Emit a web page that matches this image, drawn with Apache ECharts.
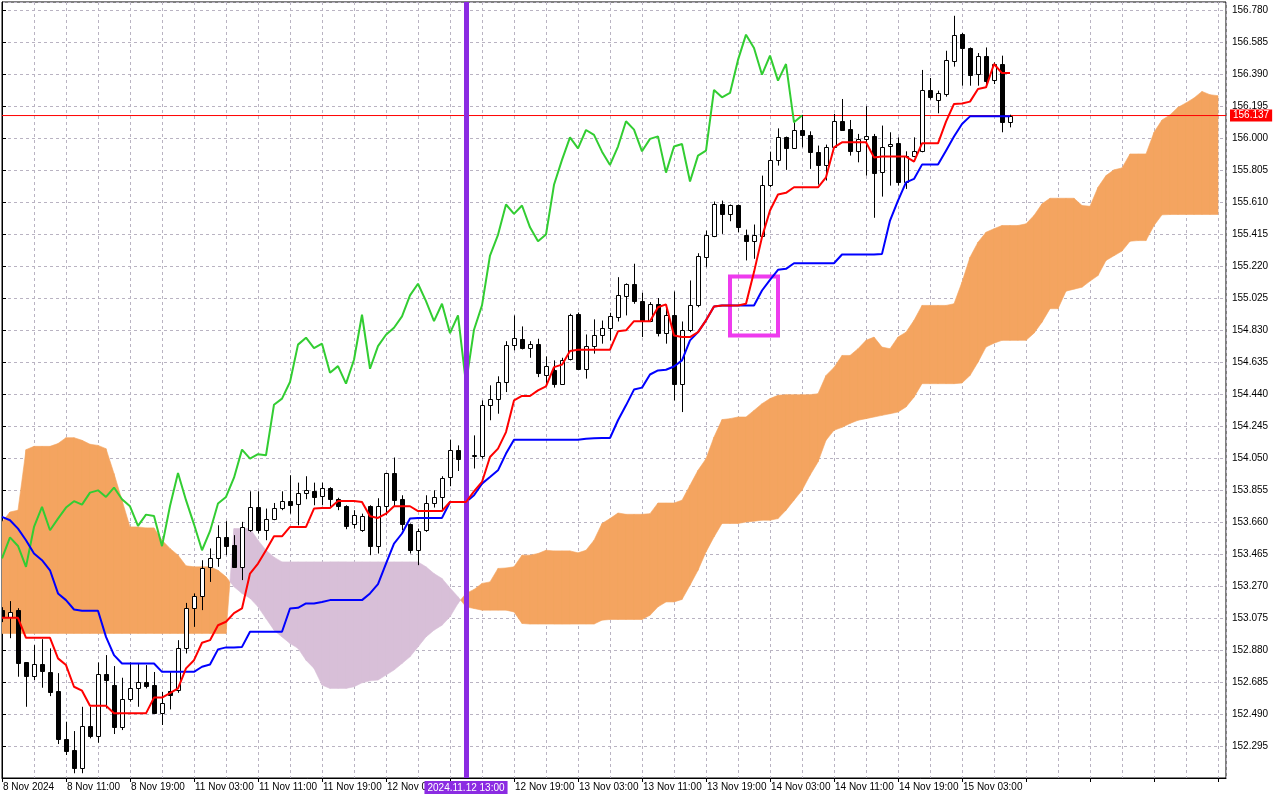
<!DOCTYPE html>
<html>
<head>
<meta charset="utf-8">
<script src="https://cdn.jsdelivr.net/npm/echarts@6/dist/echarts.min.js"></script>
<style>
html,body{margin:0;padding:0;background:#ffffff;}
#chart{width:1280px;height:800px;}
</style>
</head>
<body>
<div id="chart"></div>
<script>
// ---- data (hourly bars, index 0 = 8 Nov 2024 03:00) ----
const tickLabels = ['8 Nov 2024','8 Nov 11:00','8 Nov 19:00','11 Nov 03:00','11 Nov 11:00','11 Nov 19:00','12 Nov 03:00','',
  '12 Nov 19:00','13 Nov 03:00','13 Nov 11:00','13 Nov 19:00','14 Nov 03:00','14 Nov 11:00','14 Nov 19:00','15 Nov 03:00'];

const opens = [
153.123,153.082,153.123,152.804,152.723,152.794,152.745,152.630,152.336,152.271,
152.163,152.417,152.358,152.731,152.666,152.409,152.581,152.646,152.683,152.666,
152.498,152.632,152.636,152.893,153.133,153.210,153.383,153.438,153.566,153.519,
153.387,153.610,153.752,153.614,153.681,153.748,153.787,153.768,153.839,153.852,
153.817,153.870,153.799,153.756,153.645,153.614,153.756,153.513,153.756,153.959,
153.799,153.645,153.492,153.610,153.776,153.813,153.934,154.101,154.048,154.060,
154.062,154.375,154.412,154.513,154.741,154.777,154.720,154.747,154.558,154.584,
154.503,154.655,154.929,154.594,154.732,154.801,154.844,154.909,155.036,155.112,
155.004,154.884,154.990,154.811,154.919,154.503,154.832,154.980,155.274,155.406,
155.595,155.538,155.589,155.412,155.371,155.406,155.715,155.867,156.004,155.940,
156.049,156.021,155.917,155.836,155.943,156.102,156.056,155.919,155.995,156.015,
155.795,155.950,155.970,155.735,155.889,155.919,156.293,156.234,156.269,156.467,
156.634,156.549,156.390,156.502,156.354,156.451,156.100];

const closes = [
153.080,153.112,152.802,152.723,152.792,152.753,152.625,152.336,152.266,152.163,
152.417,152.358,152.731,152.697,152.412,152.581,152.646,152.683,152.662,152.498,
152.558,152.604,152.893,153.133,153.210,153.377,153.438,153.566,153.514,153.387,
153.630,153.752,153.610,153.681,153.748,153.787,153.766,153.839,153.853,153.813,
153.870,153.799,153.756,153.636,153.705,153.697,153.513,153.758,153.959,153.793,
153.646,153.488,153.604,153.773,153.813,153.930,154.101,154.046,154.073,154.067,
154.375,154.412,154.513,154.741,154.783,154.720,154.747,154.570,154.610,154.503,
154.649,154.923,154.594,154.732,154.801,154.844,154.913,155.041,155.112,155.006,
154.884,154.990,154.811,154.919,154.503,154.832,154.980,155.284,155.410,155.595,
155.538,155.589,155.456,155.371,155.412,155.715,155.867,156.004,155.937,156.049,
156.019,155.917,155.836,155.948,156.102,156.051,155.919,155.995,156.010,155.789,
155.948,155.964,155.735,155.893,155.923,156.293,156.248,156.275,156.476,156.630,
156.549,156.386,156.502,156.350,156.451,156.096,156.137];

const lows = [
153.050,152.952,152.717,152.534,152.697,152.650,152.599,152.307,152.240,152.129,
152.129,152.342,152.315,152.524,152.368,152.392,152.565,152.534,152.646,152.490,
152.423,152.518,152.619,152.859,153.021,153.123,153.295,153.387,153.458,153.385,
153.306,153.600,153.590,153.549,153.671,153.732,153.711,153.640,153.799,153.762,
153.762,153.752,153.732,153.616,153.620,153.600,153.458,153.468,153.701,153.752,
153.610,153.468,153.397,153.600,153.748,153.732,153.878,153.971,154.000,153.986,
154.046,154.280,154.320,154.452,154.706,154.712,154.661,154.543,154.503,154.479,
154.497,154.645,154.590,154.534,154.686,154.747,154.767,154.882,154.919,154.990,
154.787,154.878,154.791,154.747,154.401,154.330,154.817,154.969,155.213,155.396,
155.416,155.493,155.426,155.254,155.264,155.396,155.700,155.832,155.806,155.934,
155.943,155.812,155.716,155.741,155.940,156.045,155.893,155.852,155.771,155.514,
155.643,155.710,155.710,155.690,155.883,155.913,156.234,156.151,156.252,156.435,
156.319,156.319,156.319,156.309,156.329,156.035,156.065];

const highs = [
153.141,153.178,153.135,152.806,152.910,152.946,152.890,152.739,152.443,152.386,
152.534,152.534,152.804,152.849,152.782,152.711,152.804,152.798,152.788,152.746,
152.625,152.746,152.940,153.167,153.225,153.427,153.499,153.640,153.665,153.580,
153.661,153.847,153.847,153.742,153.776,153.847,153.945,153.900,153.939,153.900,
153.900,153.872,153.808,153.762,153.732,153.711,153.762,153.805,153.960,154.053,
153.823,153.651,153.620,153.823,153.853,153.939,154.162,154.127,154.158,154.188,
154.401,154.493,154.548,154.762,154.919,154.852,154.762,154.777,154.669,154.645,
154.661,154.929,154.937,154.803,154.895,154.888,154.935,155.152,155.114,155.234,
155.057,155.000,155.025,154.969,155.065,154.882,155.132,155.298,155.436,155.613,
155.619,155.595,155.595,155.442,155.473,155.771,155.917,156.059,156.009,156.110,
156.141,156.041,155.954,155.960,156.147,156.238,156.110,156.025,156.194,156.025,
156.076,156.035,156.004,155.919,156.004,156.415,156.366,156.289,156.532,156.745,
156.640,156.552,156.518,156.552,156.461,156.502,156.142];

const tenkan = [
153.076,153.076,153.076,152.954,152.954,152.954,152.954,152.829,152.788,152.656,
152.632,152.540,152.540,152.540,152.494,152.494,152.494,152.494,152.494,152.590,
152.590,152.617,152.646,152.768,152.818,152.924,152.940,153.031,153.052,153.105,
153.133,153.346,153.407,153.488,153.573,153.573,153.630,153.630,153.630,153.742,
153.746,153.746,153.788,153.788,153.788,153.782,153.695,153.685,153.711,153.756,
153.756,153.756,153.727,153.727,153.727,153.727,153.782,153.782,153.782,153.847,
153.904,154.056,154.107,154.208,154.401,154.428,154.428,154.462,154.487,154.604,
154.619,154.702,154.710,154.710,154.710,154.710,154.710,154.822,154.828,154.884,
154.884,154.884,154.969,154.986,154.797,154.787,154.787,154.817,154.889,154.974,
154.980,154.980,154.980,154.990,155.183,155.396,155.558,155.656,155.666,155.700,
155.700,155.700,155.700,155.761,155.943,155.974,155.974,155.974,155.974,155.882,
155.887,155.887,155.887,155.887,155.856,155.968,155.968,155.968,156.100,156.208,
156.211,156.222,156.299,156.309,156.451,156.396,156.396];

const kijun = [
153.691,153.671,153.620,153.549,153.468,153.427,153.366,153.225,153.184,153.127,
153.119,153.119,153.119,152.960,152.849,152.798,152.798,152.798,152.798,152.798,
152.747,152.747,152.747,152.747,152.747,152.778,152.792,152.884,152.896,152.896,
152.899,152.991,152.991,152.991,152.991,152.991,153.133,153.137,153.164,153.164,
153.173,153.184,153.184,153.184,153.184,153.184,153.225,153.281,153.407,153.529,
153.590,153.681,153.685,153.685,153.685,153.685,153.782,153.782,153.782,153.823,
153.894,153.934,153.975,154.077,154.162,154.162,154.162,154.162,154.162,154.162,
154.162,154.162,154.162,154.167,154.170,154.172,154.172,154.280,154.371,154.467,
154.479,154.559,154.584,154.588,154.608,154.645,154.767,154.817,154.889,154.974,
154.980,154.980,154.980,154.980,154.980,155.071,155.136,155.197,155.203,155.237,
155.237,155.237,155.237,155.237,155.237,155.290,155.290,155.290,155.290,155.290,
155.294,155.497,155.619,155.730,155.751,155.838,155.838,155.838,155.923,156.009,
156.086,156.132,156.132,156.132,156.132,156.132,156.132];

// Senkou spans, already shifted 26 bars forward (index 0..152)
const spanA = [
153.660,153.721,153.732,154.101,154.121,154.121,154.121,154.138,154.174,154.174,
154.158,154.134,154.127,154.107,153.955,153.793,153.630,153.630,153.624,153.624,
153.549,153.499,153.458,153.393,153.387,153.387,153.387,153.366,153.326,153.265,
153.225,153.196,153.143,153.072,153.001,152.960,152.920,152.890,152.818,152.768,
152.666,152.646,152.646,152.646,152.656,152.680,152.692,152.697,152.727,152.758,
152.798,152.839,152.899,152.960,153.001,153.031,153.082,153.164,153.225,153.249,
153.286,153.295,153.377,153.380,153.387,153.458,153.458,153.468,153.488,153.484,
153.484,153.484,153.472,153.488,153.549,153.651,153.681,153.715,153.707,153.707,
153.707,153.711,153.776,153.776,153.776,153.793,153.884,153.975,154.046,154.178,
154.284,154.290,154.300,154.300,154.340,154.381,154.412,154.432,154.436,154.436,
154.436,154.436,154.442,154.553,154.602,154.675,154.675,154.716,154.767,154.787,
154.726,154.716,154.787,154.817,154.889,154.980,154.980,154.980,154.980,154.990,
155.122,155.274,155.365,155.426,155.447,155.467,155.467,155.467,155.477,155.528,
155.599,155.633,155.633,155.633,155.633,155.589,155.584,155.700,155.771,155.806,
155.818,155.903,155.903,155.903,156.035,156.110,156.141,156.187,156.214,156.244,
156.284,156.264,156.258];

const spanB = [
152.981,152.981,152.981,152.981,152.981,152.981,152.981,152.981,152.981,152.981,
152.981,152.981,152.981,152.981,152.981,152.981,152.981,152.981,152.981,152.981,
152.981,152.981,152.981,152.981,152.981,152.981,152.981,152.981,152.981,153.620,
153.620,153.620,153.549,153.488,153.446,153.417,153.417,153.417,153.417,153.417,
153.417,153.417,153.417,153.417,153.417,153.417,153.417,153.417,153.417,153.417,
153.417,153.417,153.417,153.387,153.346,153.316,153.258,153.204,153.143,153.133,
153.123,153.123,153.123,153.123,153.112,153.042,153.038,153.038,153.038,153.038,
153.038,153.038,153.038,153.038,153.038,153.062,153.066,153.066,153.066,153.066,
153.066,153.092,153.143,153.173,153.173,153.188,153.275,153.366,153.478,153.569,
153.651,153.651,153.651,153.660,153.665,153.671,153.671,153.681,153.732,153.793,
153.853,153.945,154.026,154.158,154.219,154.237,154.261,154.280,154.290,154.300,
154.310,154.320,154.330,154.361,154.421,154.503,154.503,154.503,154.503,154.503,
154.507,154.553,154.634,154.726,154.750,154.767,154.767,154.767,154.767,154.811,
154.878,154.960,154.960,155.067,155.079,155.091,155.128,155.162,155.254,155.283,
155.311,155.371,155.375,155.375,155.467,155.532,155.534,155.534,155.534,155.534,
155.534,155.534,155.534];

const chikouShift = 26;
const lastPrice = 156.137;
const markerBar = 58;
const markerText = '2024.11.12 13:00';
const boxCorners = [[91, 155.156], [97, 154.797]];

// ---- build series data ----
const candleData = opens.map((o, i) => [i, o, closes[i], lows[i], highs[i]]);
const tenkanData = tenkan.map((v, i) => [i, v]);
const kijunData = kijun.map((v, i) => [i, v]);
const chikouData = closes.slice(chikouShift).map((v, i) => [i, v]);
const cloudData = [];
for (let i = 0; i < spanA.length - 1; i++) {
  cloudData.push([i, spanA[i], spanB[i], spanA[i + 1], spanB[i + 1]]);
}
const xMax = 153;
const priceLineData = [[0, lastPrice], [xMax, lastPrice]];

const FONT = 'Liberation Sans';
const ORANGE = '#F4A460';
const THISTLE = '#D8BFD8';
const GRID_COLOR = '#B9B3C2';

function renderCloud(params, api) {
  const k = api.value(0);
  const a1 = api.value(1), b1 = api.value(2), a2 = api.value(3), b2 = api.value(4);
  const d1 = a1 - b1, d2 = a2 - b2;
  const P = (x, y) => api.coord([x, y]);
  const polys = [];
  if (d1 * d2 >= 0) {
    const col = (d1 + d2) >= 0 ? ORANGE : THISTLE;
    polys.push({ pts: [P(k, a1), P(k + 1, a2), P(k + 1, b2), P(k, b1)], col: col });
  } else {
    const t = d1 / (d1 - d2);
    const xm = k + t, ym = a1 + t * (a2 - a1);
    polys.push({ pts: [P(k, a1), P(xm, ym), P(k, b1)], col: d1 > 0 ? ORANGE : THISTLE });
    polys.push({ pts: [P(xm, ym), P(k + 1, a2), P(k + 1, b2)], col: d2 > 0 ? ORANGE : THISTLE });
  }
  return {
    type: 'group',
    children: polys.map(p => ({
      type: 'polygon',
      shape: { points: p.pts },
      style: { fill: p.col, stroke: p.col, lineWidth: 0.6 }
    }))
  };
}

function renderCandle(params, api) {
  const k = api.value(0);
  const o = api.value(1), c = api.value(2), l = api.value(3), h = api.value(4);
  const pO = api.coord([k, o]), pC = api.coord([k, c]);
  const pL = api.coord([k, l]), pH = api.coord([k, h]);
  const x = Math.round(pO[0]) + 0.5;
  const w = api.size([1, 0])[0] * 0.5;
  const top = Math.round(Math.min(pO[1], pC[1])) + 0.5;
  const bot = Math.round(Math.max(pO[1], pC[1])) + 0.5;
  const bull = c >= o;
  return {
    type: 'group',
    children: [
      { type: 'line', shape: { x1: x, y1: pH[1], x2: x, y2: pL[1] }, style: { stroke: '#000', lineWidth: 1 } },
      { type: 'rect', shape: { x: x - w / 2, y: top, width: w, height: Math.max(bot - top, 1) },
        style: { fill: bull ? '#ffffff' : '#000000', stroke: '#000', lineWidth: 1 } }
    ]
  };
}

const chart = echarts.init(document.getElementById('chart'), null, { renderer: 'canvas' });
chart.setOption({
  animation: false,
  backgroundColor: '#ffffff',
  grid: { left: 2, right: 54, top: 2, bottom: 22, show: true, borderColor: '#000', borderWidth: 1, backgroundColor: 'transparent' },
  xAxis: [
    {
      type: 'value', min: 0, max: xMax, interval: 4,
      axisLine: { show: false }, axisTick: { show: false }, axisLabel: { show: false },
      splitLine: { show: true, lineStyle: { color: GRID_COLOR, type: [3, 3], width: 1 } }
    },
    {
      type: 'value', min: 0, max: xMax, interval: 8, position: 'bottom',
      axisLine: { show: true, onZero: false, lineStyle: { color: '#000', width: 1 } },
      axisTick: { show: true, length: 4, lineStyle: { color: '#000' } },
      splitLine: { show: false },
      axisLabel: {
        show: true, color: '#000', fontFamily: FONT, fontSize: 10, align: 'left', margin: 4,
        padding: [0, 0, 0, 1], showMaxLabel: false,
        formatter: function (v) { return (v % 8 === 0) ? (tickLabels[v / 8] || '') : ''; }
      }
    }
  ],
  yAxis: {
    type: 'value', position: 'right', min: 152.1, max: 156.829, interval: 0.195, scale: true,
    axisLine: { show: true, lineStyle: { color: '#000', width: 1 } },
    axisTick: { show: true, length: 4, lineStyle: { color: '#000' } },
    splitLine: { show: true, lineStyle: { color: GRID_COLOR, type: [3, 3], width: 1 } },
    axisLabel: {
      color: '#000', fontFamily: FONT, fontSize: 10, margin: 6, showMinLabel: false, showMaxLabel: false,
      formatter: function (v) { return v.toFixed(3); }
    }
  },
  series: [
    {
      type: 'custom', name: 'Cloud', renderItem: renderCloud, data: cloudData, clip: true, z: 1,
      dimensions: ['k', 'a1', 'b1', 'a2', 'b2'], encode: { x: 0, y: [1, 2] }, silent: true
    },
    {
      type: 'line', name: 'PriceLine', data: priceLineData, z: 2, silent: true,
      showSymbol: false, symbol: 'none', clip: false,
      lineStyle: { color: '#FF0000', width: 1, type: 'solid' },
      endLabel: {
        show: true, distance: 4, formatter: lastPrice.toFixed(3),
        color: '#fff', backgroundColor: '#FF0000', padding: [1, 3, 1, 3], fontFamily: FONT, fontSize: 10
      }
    },
    {
      type: 'custom', name: 'Price', renderItem: renderCandle, data: candleData, clip: true, z: 3,
      dimensions: ['k', 'open', 'close', 'low', 'high'], encode: { x: 0, y: [1, 2, 3, 4] }, silent: true
    },
    {
      type: 'line', name: 'Chikou', data: chikouData, showSymbol: false, symbol: 'none', z: 4,
      lineStyle: { color: '#32CD32', width: 2 }, silent: true
    },
    {
      type: 'line', name: 'Kijun', data: kijunData, showSymbol: false, symbol: 'none', z: 4,
      lineStyle: { color: '#0000FF', width: 2 }, silent: true
    },
    {
      type: 'line', name: 'Tenkan', data: tenkanData, showSymbol: false, symbol: 'none', z: 5,
      lineStyle: { color: '#FF0000', width: 2 }, silent: true
    },
    {
      type: 'line', name: 'Markers', data: [], z: 7, silent: true, color: '#8B2BE2',
      markLine: {
        silent: true, animation: false, symbol: ['none', 'none'],
        lineStyle: { color: '#8B2BE2', width: 5, type: 'solid', opacity: 1 },
        label: { show: true, position: 'start', distance: 3, formatter: markerText,
          color: '#fff', backgroundColor: '#8B2BE2', padding: [2, 3, 1, 3], fontFamily: FONT, fontSize: 10 },
        data: [ { xAxis: markerBar } ]
      },
      markArea: {
        silent: true,
        itemStyle: { color: 'rgba(0,0,0,0)', borderColor: '#EE3BEE', borderWidth: 4 },
        data: [[{ coord: boxCorners[0] }, { coord: boxCorners[1] }]]
      }
    }
  ]
});
</script>
</body>
</html>
